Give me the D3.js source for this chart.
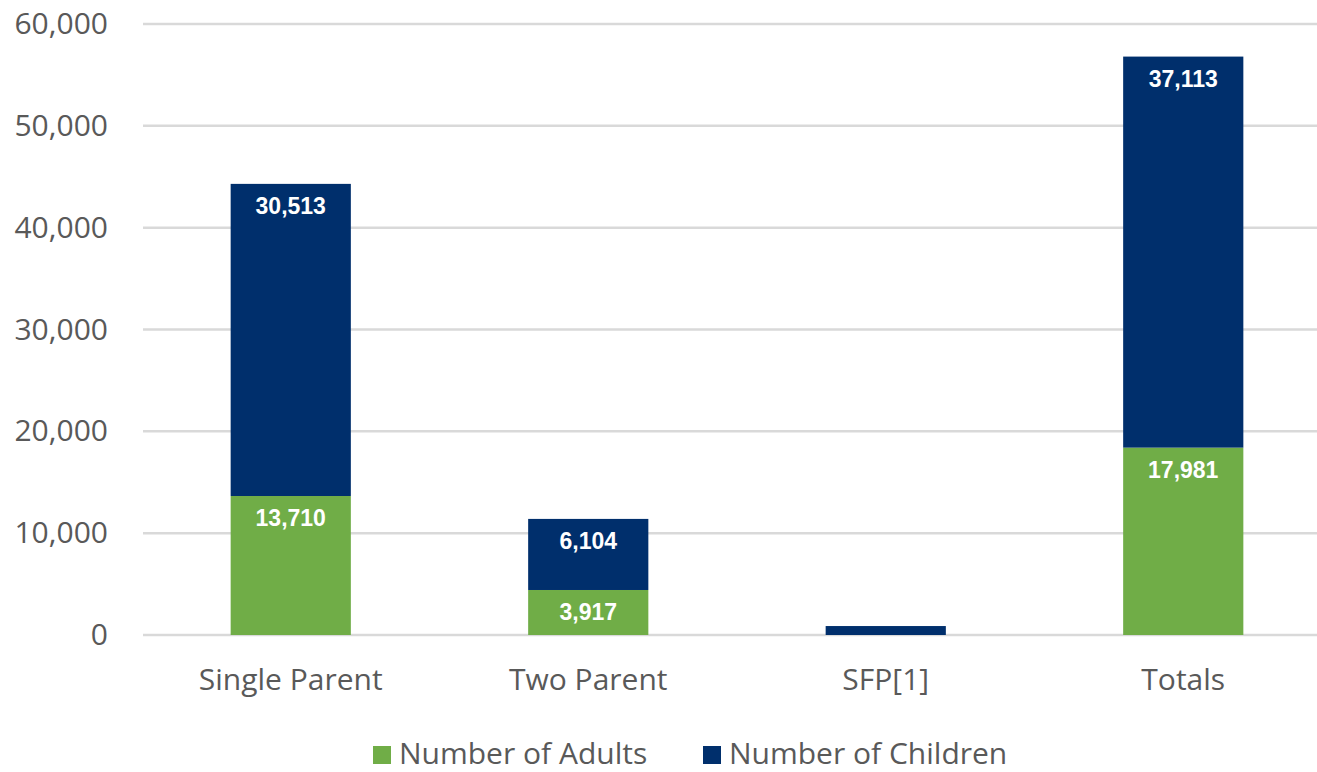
<!DOCTYPE html>
<html>
<head>
  <title>Adults and Children by Family Type</title>
  <script src="https://d3js.org/d3.v7.min.js"></script>
  <style>
    body { margin: 0; background: #fff; }
    .axis-label { font-family: "Open Sans", sans-serif; font-size: 30px; fill: #595959; }
    .bar-label { font-family: "Liberation Sans", Arial, sans-serif; font-size: 23px; font-weight: bold; fill: #fff; text-anchor: middle; }
  </style>
</head>
<body>
  <svg id="chart"></svg>
  <script>
    // segment heights as drawn in the picture
    const categories = ["Single Parent", "Two Parent", "SFP[1]", "Totals"];
    const adults = [13650, 4420, 0, 18400];
    const children = [30650, 6980, 880, 38400];
    // data labels as printed on the bars
    const adultLabels = ["13,710", "3,917", "", "17,981"];
    const childLabels = ["30,513", "6,104", "", "37,113"];
    const yTicks = [0, 10000, 20000, 30000, 40000, 50000, 60000];
    const seriesNames = ["Number of Adults", "Number of Children"];
    const colors = ["#70ad47", "#002f6c"];

    const W = 1317, H = 772;
    const svg = d3.select("#chart").attr("width", W).attr("height", H);

    const x = d3.scaleBand()
      .domain(categories)
      .range([142, 1332])
      .paddingInner(0.596)
      .paddingOuter(0.298);

    const y = d3.scaleLinear()
      .domain([0, 60000])
      .range([635, 24]);

    // gridlines
    svg.append("g")
      .selectAll("line")
      .data(yTicks)
      .enter().append("line")
        .attr("x1", 143).attr("x2", W)
        .attr("y1", d => y(d)).attr("y2", d => y(d))
        .attr("stroke", "#d9d9d9")
        .attr("stroke-width", 2.5);

    // y axis labels
    const fmt = d3.format(",");
    svg.append("g")
      .selectAll("text")
      .data(yTicks)
      .enter().append("text")
        .attr("class", "axis-label")
        .attr("x", 108)
        .attr("y", d => y(d) + 10)
        .attr("text-anchor", "end")
        .text(d => fmt(d));

    // stacked bars
    const stackData = categories.map((c, i) => ({cat: c, i: i, adults: adults[i], children: children[i]}));
    const stack = d3.stack().keys(["adults", "children"])(stackData);
    const labelSets = [adultLabels, childLabels];

    stack.forEach((layer, li) => {
      const g = svg.append("g");
      g.selectAll("rect")
        .data(layer)
        .enter().append("rect")
          .attr("x", d => x(d.data.cat))
          .attr("y", d => y(d[1]))
          .attr("width", x.bandwidth())
          .attr("height", d => y(d[0]) - y(d[1]))
          .attr("fill", colors[li]);

      g.selectAll("text")
        .data(layer.filter(d => labelSets[li][d.data.i] !== ""))
        .enter().append("text")
          .attr("class", "bar-label")
          .attr("x", d => x(d.data.cat) + x.bandwidth() / 2)
          .attr("y", d => y(d[1]) + 30)
          .text(d => labelSets[li][d.data.i]);
    });

    // category labels
    svg.append("g")
      .selectAll("text")
      .data(categories)
      .enter().append("text")
        .attr("class", "axis-label")
        .attr("x", d => x(d) + x.bandwidth() / 2)
        .attr("y", 690)
        .attr("text-anchor", "middle")
        .text(d => d);

    // legend
    const legend = svg.append("g");
    const legendX = [373, 703];
    seriesNames.forEach((name, i) => {
      legend.append("rect")
        .attr("x", legendX[i]).attr("y", 746)
        .attr("width", 18).attr("height", 18)
        .attr("fill", colors[i]);
      legend.append("text")
        .attr("class", "axis-label")
        .attr("x", legendX[i] + 26)
        .attr("y", 764)
        .text(name);
    });
  </script>
</body>
</html>
